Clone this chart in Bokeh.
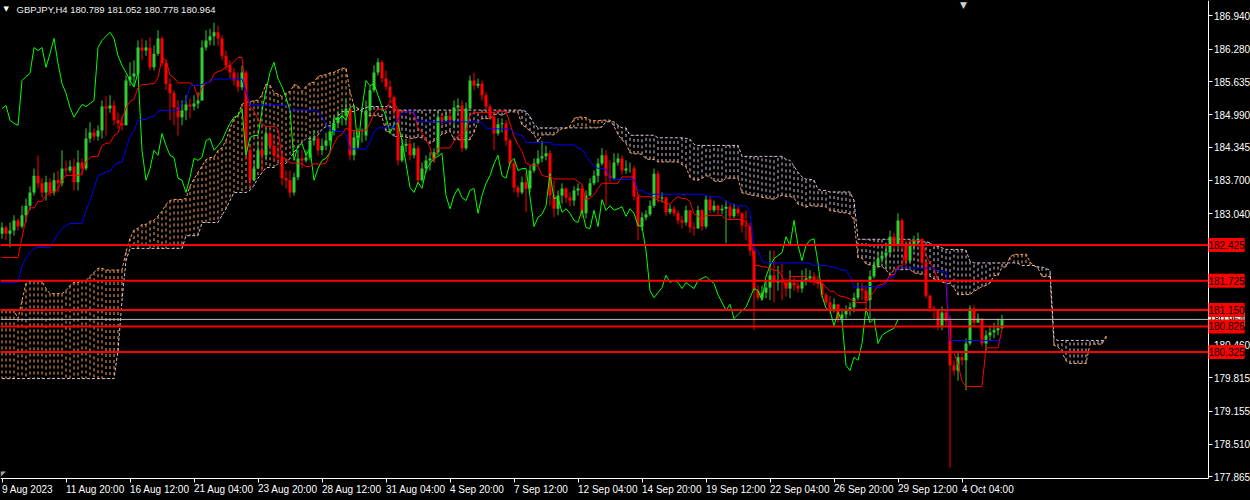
from bokeh.plotting import figure
from bokeh.models import Range1d, FixedTicker, PrintfTickFormatter, Label, ColumnDataSource
from bokeh.embed import file_html
from bokeh.resources import INLINE

chart_title = "GBPJPY,H4  180.789 181.052 180.778 180.964"

first_open = 182.65
close = [
    182.77, 182.65, 182.71, 182.91, 182.79, 183.01, 183.20, 183.46, 183.79, 183.64,
    183.46, 183.66, 183.46, 183.70, 183.64, 183.93, 183.89, 183.97, 183.66, 184.05,
    183.93, 184.52, 184.64, 184.56, 184.68, 185.15, 185.11, 185.17, 184.88, 184.82,
    184.78, 185.66, 185.74, 185.80, 186.31, 186.25, 186.31, 185.92, 186.19, 186.49,
    186.00, 185.60, 185.41, 185.13, 184.94, 185.07, 185.19, 185.15, 185.21, 185.27,
    186.31, 186.45, 186.53, 186.61, 186.49, 186.15, 185.96, 185.82, 185.66, 185.53,
    185.82, 184.29, 183.70, 183.93, 184.29, 184.19, 184.62, 184.38, 184.19, 184.15,
    183.74, 183.70, 183.46, 183.76, 184.13, 184.09, 184.15, 184.48, 184.52, 184.29,
    184.38, 184.48, 184.66, 184.82, 184.94, 184.97, 185.11, 184.19, 184.54, 184.58,
    184.58, 185.07, 185.47, 185.82, 186.02, 185.70, 185.54, 185.33, 185.07, 184.09,
    184.38, 184.42, 184.19, 184.33, 183.70, 183.93, 184.09, 184.13, 184.25, 184.94,
    184.88, 184.97, 184.88, 185.13, 185.17, 184.33, 185.11, 185.66, 185.56, 185.60,
    185.37, 185.15, 184.95, 184.62, 184.80, 184.82, 184.48, 184.03, 183.56, 183.46,
    183.66, 183.54, 183.89, 184.03, 184.13, 184.17, 184.23, 183.40, 183.14, 183.40,
    183.54, 183.36, 183.30, 183.50, 183.54, 183.05, 183.40, 183.64, 183.79, 184.03,
    184.19, 183.79, 183.74, 184.05, 184.13, 183.89, 183.93, 183.93, 183.38, 182.79,
    182.97, 183.03, 183.20, 183.83, 183.34, 183.36, 183.07, 183.14, 183.05, 182.91,
    182.87, 183.11, 182.77, 182.75, 183.11, 182.79, 183.32, 183.11, 183.20, 183.11,
    183.14, 183.18, 182.99, 183.14, 183.05, 182.81, 182.79, 182.32, 181.53, 181.39,
    181.49, 181.59, 181.83, 181.69, 181.73, 181.69, 181.57, 181.69, 181.63, 181.57,
    181.73, 181.77, 181.81, 181.73, 181.67, 181.45, 181.30, 181.14, 181.26, 180.98,
    181.06, 181.14, 181.20, 181.39, 181.57, 181.53, 181.34, 181.81, 182.02, 182.16,
    182.22, 182.28, 182.59, 182.42, 182.91, 182.42, 182.12, 182.42, 182.52, 182.55,
    182.08, 181.43, 181.18, 181.14, 180.84, 181.10, 180.94, 180.06, 179.96, 180.22,
    180.16, 180.49, 181.18, 180.90, 180.98, 180.49, 180.65, 180.71, 180.75, 180.789,
    180.964,
]
high = [
    182.87, 182.81, 182.87, 183.01, 182.95, 183.20, 183.34, 183.58, 183.93, 184.19,
    183.74, 183.79, 183.74, 183.85, 183.89, 184.29, 184.09, 184.09, 184.13, 184.29,
    184.13, 184.72, 184.84, 184.72, 184.78, 185.27, 185.35, 185.37, 185.27, 185.03,
    184.97, 185.76, 186.02, 186.06, 186.45, 186.49, 186.45, 186.51, 186.35, 186.65,
    186.53, 186.06, 185.70, 185.47, 185.27, 185.27, 185.37, 185.31, 185.37, 185.43,
    186.45, 186.65, 186.68, 186.80, 186.74, 186.55, 186.25, 186.06, 185.90, 185.82,
    185.96, 185.86, 184.38, 184.09, 184.48, 184.48, 184.72, 184.68, 184.58, 184.38,
    184.25, 183.89, 183.89, 183.85, 184.29, 184.29, 184.29, 184.58, 184.68, 184.58,
    184.52, 184.64, 184.78, 184.92, 185.07, 185.11, 185.27, 185.17, 184.68, 184.72,
    184.72, 185.27, 185.56, 185.96, 186.10, 186.06, 185.86, 185.66, 185.37, 185.11,
    184.52, 184.52, 184.52, 184.44, 184.38, 184.05, 184.19, 184.25, 184.33, 185.07,
    185.03, 185.07, 185.07, 185.27, 185.31, 185.27, 185.23, 185.76, 185.82, 185.70,
    185.66, 185.43, 185.19, 185.01, 184.92, 184.92, 184.88, 184.52, 184.09, 183.60,
    183.77, 183.85, 183.99, 184.13, 184.29, 184.48, 184.38, 184.29, 183.70, 183.50,
    183.64, 183.56, 183.46, 183.58, 183.64, 183.60, 183.50, 183.74, 183.89, 184.13,
    184.33, 184.29, 184.09, 184.23, 184.23, 184.19, 184.09, 184.05, 183.99, 183.44,
    183.07, 183.11, 183.30, 183.93, 183.89, 183.46, 183.38, 183.22, 183.20, 183.11,
    182.99, 183.20, 183.11, 182.87, 183.20, 183.14, 183.40, 183.38, 183.30, 183.22,
    183.22, 183.30, 183.24, 183.24, 183.18, 183.07, 183.11, 182.87, 182.42, 181.63,
    181.63, 181.73, 182.32, 182.32, 182.02, 182.06, 181.77, 181.93, 181.79, 181.73,
    181.93, 181.97, 181.93, 181.89, 181.83, 181.73, 181.49, 181.43, 181.38, 181.24,
    181.18, 181.24, 181.30, 181.49, 181.69, 181.69, 181.63, 181.93, 182.12, 182.28,
    182.32, 182.42, 182.71, 182.67, 183.05, 182.95, 182.52, 182.52, 182.61, 182.67,
    182.55, 182.12, 181.45, 181.24, 181.14, 181.22, 181.14, 181.04, 180.16, 180.31,
    180.31, 180.59, 181.24, 181.24, 181.08, 180.98, 180.75, 180.84, 180.90, 180.98,
    181.052,
]
low = [
    182.55, 182.52, 182.38, 182.61, 182.71, 182.75, 182.87, 183.11, 183.40, 183.54,
    183.36, 183.30, 183.38, 183.40, 183.46, 183.58, 183.77, 183.85, 183.50, 183.50,
    183.79, 183.89, 184.44, 184.48, 184.48, 184.52, 184.58, 185.03, 184.78, 184.72,
    184.68, 184.78, 185.56, 185.56, 185.76, 186.06, 186.15, 185.86, 185.86, 186.15,
    185.94, 185.47, 184.88, 184.78, 184.58, 184.78, 184.88, 184.92, 185.07, 185.11,
    185.27, 186.25, 186.35, 186.35, 186.35, 186.06, 185.86, 185.70, 185.56, 185.43,
    185.47, 184.09, 183.56, 183.70, 183.93, 183.85, 184.09, 184.29, 184.09, 184.05,
    183.60, 183.54, 183.36, 183.40, 183.70, 183.93, 184.05, 184.09, 184.38, 184.19,
    184.19, 184.29, 184.38, 184.58, 184.72, 184.78, 184.78, 184.09, 184.09, 184.38,
    184.44, 184.48, 184.94, 185.43, 185.76, 185.62, 185.47, 185.23, 184.97, 183.99,
    184.05, 184.25, 184.09, 184.13, 183.60, 183.66, 183.85, 183.89, 184.05, 184.19,
    184.78, 184.84, 184.78, 184.72, 185.03, 184.25, 184.29, 185.07, 185.47, 185.51,
    185.27, 185.07, 184.88, 184.29, 184.58, 184.64, 184.38, 183.93, 183.46, 183.36,
    183.42, 183.07, 183.46, 183.85, 183.99, 184.05, 184.09, 183.20, 182.97, 183.01,
    183.24, 183.26, 183.18, 183.20, 183.40, 182.95, 182.95, 183.38, 183.60, 183.66,
    183.99, 183.20, 183.66, 183.70, 183.99, 183.81, 183.83, 183.85, 183.30, 182.52,
    182.71, 182.91, 182.99, 183.16, 183.26, 183.26, 182.99, 183.03, 182.99, 182.83,
    182.75, 182.81, 182.67, 182.61, 182.79, 182.71, 182.75, 183.05, 183.07, 183.01,
    183.03, 182.46, 182.93, 182.95, 182.99, 182.67, 182.52, 182.22, 180.75, 181.34,
    181.34, 181.38, 181.34, 181.30, 181.53, 181.34, 181.41, 181.38, 181.53, 181.49,
    181.49, 181.63, 181.69, 181.63, 181.57, 181.38, 181.24, 181.06, 181.10, 180.90,
    180.90, 180.98, 181.04, 181.10, 181.34, 181.34, 181.10, 180.98, 181.77, 181.97,
    182.08, 181.97, 182.22, 182.32, 182.36, 182.32, 182.02, 182.08, 182.32, 182.42,
    182.00, 181.38, 181.10, 180.98, 180.75, 180.75, 180.84, 178.05, 179.86, 179.76,
    180.06, 179.57, 180.45, 180.82, 180.90, 180.43, 180.31, 180.55, 180.59, 180.65,
    180.778,
]

# indicator values read from the picture where the visible bars do not yet cover the window
tenkan_lead = [182.18, 182.18, 182.18, 182.18, 182.18, 182.57, 182.95, 183.16]
kijun_lead = [181.69, 181.69, 181.69, 181.69, 181.69, 182.02, 182.16, 182.28, 182.36, 182.38,
              182.38, 182.38, 182.38, 182.52, 182.65, 182.75, 182.81, 182.85, 182.85, 182.85,
              182.85, 183.11, 183.30, 183.54, 183.79]
span_a_lead = [181.14, 181.14, 181.14, 181.14, 180.98, 181.34, 181.67, 181.71, 181.71, 181.71,
               181.71, 181.57, 181.47, 181.47, 181.47, 181.47, 181.53, 181.63, 181.69, 181.69,
               181.73, 181.73, 181.81, 181.89, 181.97, 181.97]
span_b_lead = [179.80, 179.80, 179.80, 179.80, 179.80, 179.80, 179.80, 179.80, 179.80, 179.80,
               179.80, 179.80, 179.80, 179.80, 179.80, 179.80, 179.80, 179.80, 179.80, 179.80,
               179.80, 179.80, 179.80, 179.80, 179.80, 179.80, 179.80, 179.80, 179.80, 180.35,
               181.34, 182.12, 182.36, 182.36, 182.36, 182.36, 182.36, 182.36, 182.36, 182.36,
               182.36, 182.36, 182.36, 182.36, 182.36, 182.36, 182.61, 182.61, 182.61, 182.61,
               182.87, 182.87, 182.87, 182.87, 182.87, 183.01, 183.14, 183.30, 183.46, 183.46,
               183.46, 183.46, 183.50, 183.60, 183.74, 183.85, 183.95, 183.95, 183.95, 184.03,
               184.03, 184.03, 184.13, 184.25, 184.34, 184.44, 184.52]

level_lines = [182.425, 181.725, 181.150, 180.826, 180.325]
bid_price = 180.964

x_ticks = [0, 16, 32, 48, 64, 80, 96, 112, 128, 144, 160, 176, 192, 208, 224, 240]
x_tick_labels = ["9 Aug 2023", "11 Aug 20:00", "16 Aug 12:00", "21 Aug 04:00", "23 Aug 20:00",
                 "28 Aug 12:00", "31 Aug 04:00", "4 Sep 20:00", "7 Sep 12:00", "12 Sep 04:00",
                 "14 Sep 20:00", "19 Sep 12:00", "22 Sep 04:00", "26 Sep 20:00", "29 Sep 12:00",
                 "4 Oct 04:00"]
y_ticks = [186.940, 186.280, 185.635, 184.990, 184.345, 183.700, 183.040,
           180.460, 179.815, 179.155, 178.510, 177.865]

# ---------------- derived series ----------------
n = len(close)
opens = [first_open] + close[:-1]
hi = [max(h, o, c) for h, o, c in zip(high, opens, close)]
lo = [min(l, o, c) for l, o, c in zip(low, opens, close)]
idx = list(range(n))
UP, DOWN = "#32cd32", "#ff0000"
ccol = [UP if c >= o else DOWN for o, c in zip(opens, close)]

tenkan = [tenkan_lead[i] if i < 8 else (max(hi[i - 8:i + 1]) + min(lo[i - 8:i + 1])) / 2 for i in range(n)]
kijun = [kijun_lead[i] if i < 25 else (max(hi[i - 25:i + 1]) + min(lo[i - 25:i + 1])) / 2 for i in range(n)]
m = n + 26
span_a = [span_a_lead[i] if i < 26 else (tenkan[i - 26] + kijun[i - 26]) / 2 for i in range(m)]
span_b = [span_b_lead[i] if i < 77 else (max(hi[i - 77:i - 25]) + min(lo[i - 77:i - 25])) / 2 for i in range(m)]
cloud_x = list(range(m))
cloud_col = ["#f4a460" if a >= b else "#d8bfd8" for a, b in zip(span_a, span_b)]
chikou_x = list(range(n - 26))
chikou_y = close[26:]

# ---------------- figure ----------------
PX_PER_BAR = 4
X0 = -0.375
AXIS_X = X0 + 1207.5 / PX_PER_BAR          # price scale line (screen x 1207.5)
Y_TOP, Y_BOT = 187.235, 177.855            # price at chart top / chart bottom (477 px)
Y_PER_PX = (Y_TOP - Y_BOT) / 477
Y_MIN = Y_BOT - 23 * Y_PER_PX              # time scale strip below the chart
AXIS_Y = Y_BOT - 0.5 * Y_PER_PX

p = figure(frame_width=1250, frame_height=500,
           x_range=Range1d(X0, X0 + 1250 / PX_PER_BAR), y_range=Range1d(Y_MIN, Y_TOP),
           output_backend="svg", toolbar_location=None, y_axis_location="right",
           background_fill_color="#000000", border_fill_color="#000000",
           min_border_left=0, min_border_top=0, min_border_right=0, min_border_bottom=0)
p.outline_line_color = None
p.grid.visible = False

# cloud hatch
cloud_src = ColumnDataSource(dict(x=cloud_x, a=span_a, b=span_b, c=cloud_col))
p.segment(x0="x", y0="a", x1="x", y1="b", color="c", line_width=1, line_dash="3 3", source=cloud_src)
p.line(cloud_x, span_a, color="#f4a460", line_width=1, line_dash="3 2")
p.line(cloud_x, span_b, color="#d8bfd8", line_width=1, line_dash="3 2")

# candles
csrc = ColumnDataSource(dict(x=idx, h=hi, l=lo, col=ccol,
                             top=[max(o, c) for o, c in zip(opens, close)],
                             bot=[min(o, c) for o, c in zip(opens, close)]))
p.segment(x0="x", y0="l", x1="x", y1="h", color="col", line_width=1, source=csrc)
p.vbar(x="x", width=0.75, top="top", bottom="bot", fill_color="col", line_color=None, source=csrc)

# ichimoku lines
p.line(chikou_x, chikou_y, color="#00ff00", line_width=1)
p.line(idx, tenkan, color="#ff0000", line_width=1)
p.line(idx, kijun, color="#0000ff", line_width=1)

# axes
for ax in (p.xaxis[0], p.yaxis[0]):
    ax.axis_line_color = "#ffffff"
    ax.major_tick_line_color = "#ffffff"
    ax.minor_tick_line_color = None
    ax.major_tick_in = 0
    ax.major_tick_out = 4
    ax.major_label_text_color = "#ffffff"
    ax.major_label_text_font = "Liberation Sans"
    ax.major_label_text_font_size = "10px"
yax = p.yaxis[0]
yax.ticker = FixedTicker(ticks=y_ticks)
yax.formatter = PrintfTickFormatter(format="%.3f")
yax.fixed_location = AXIS_X
yax.bounds = (AXIS_Y, Y_TOP)
yax.major_label_standoff = 2
xax = p.xaxis[0]
xax.ticker = FixedTicker(ticks=x_ticks)
xax.major_label_overrides = {t: s for t, s in zip(x_ticks, x_tick_labels)}
xax.major_label_orientation = -1e-6
xax.major_label_standoff = 7
xax.fixed_location = AXIS_Y
xax.bounds = (X0, AXIS_X)

# price levels and bid line (stop at the price scale)
p.segment(x0=[X0], y0=[bid_price], x1=[AXIS_X], y1=[bid_price], color="#c0c0c0", line_width=1)
p.segment(x0=[X0] * len(level_lines), y0=level_lines, x1=[AXIS_X] * len(level_lines), y1=level_lines,
          color="#ff0000", line_width=2)

p.add_layout(Label(x=1208, y=bid_price, x_units="screen", y_units="data", text=f"{bid_price:.3f}",
                   text_font="Liberation Sans", text_font_size="10px", text_color="#000000",
                   text_baseline="middle", text_align="left", background_fill_color="#f0f0dc",
                   padding=(0, 3), level="overlay"))
for lv in level_lines:
    p.add_layout(Label(x=1208, y=lv, x_units="screen", y_units="data", text=f"{lv:.3f}",
                       text_font="Liberation Sans", text_font_size="10px", text_color="#000000",
                       text_baseline="middle", text_align="left", background_fill_color="#ff0000",
                       padding=(0, 3), level="overlay"))

# title and markers
p.add_layout(Label(x=16, y=497, x_units="screen", y_units="screen", text=chart_title,
                   text_font="Liberation Sans", text_font_size="9.5px", text_color="#f0f0f0",
                   text_baseline="top", text_align="left"))
p.add_layout(Label(x=3, y=496, x_units="screen", y_units="screen", text="\u25bc",
                   text_font="DejaVu Sans", text_font_size="7px", text_color="#ffffff",
                   text_baseline="top", text_align="left"))
p.add_layout(Label(x=963, y=501, x_units="screen", y_units="screen", text="\u25bc",
                   text_font="DejaVu Sans", text_font_size="9px", text_color="#d0d0d0",
                   text_baseline="top", text_align="center"))
p.add_layout(Label(x=0, y=31, x_units="screen", y_units="screen", text="\u25e4",
                   text_font="DejaVu Sans", text_font_size="7px", text_color="#a0a0a0",
                   text_baseline="top", text_align="left"))

html = file_html(p, INLINE)
html = html.replace("<head>", "<head><style>html,body{margin:0;padding:0;background:#000;overflow:hidden}</style>", 1)
open("out.html", "w").write(html)
